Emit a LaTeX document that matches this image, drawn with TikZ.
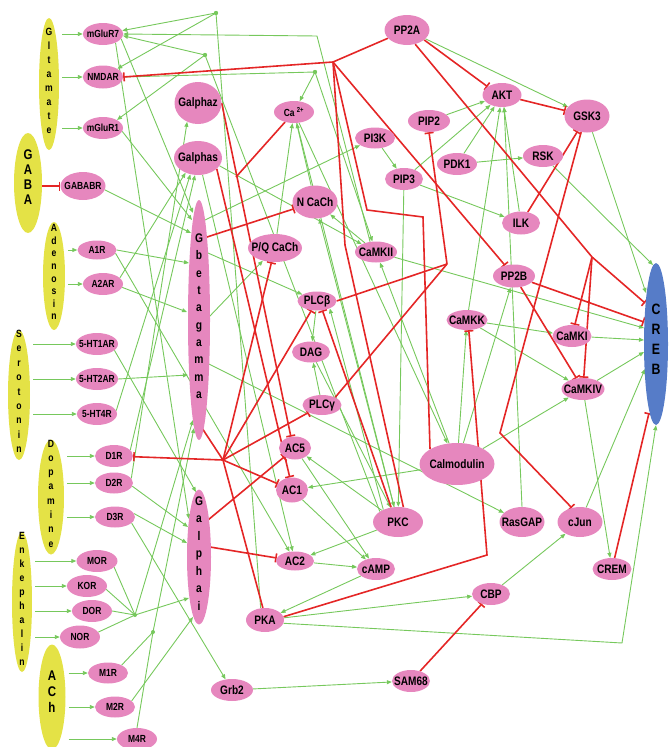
\documentclass[tikz,border=0pt]{standalone}
\usepackage{fontspec}
\newfontfamily\lf[FakeStretch=0.82]{Liberation Sans}
\usetikzlibrary{shapes.geometric,arrows.meta}
\definecolor{pinkc}{RGB}{230,135,190}
\definecolor{yelc}{RGB}{228,226,70}
\definecolor{bluec}{RGB}{86,124,200}
\definecolor{greenc}{RGB}{118,200,92}
\definecolor{redc}{RGB}{228,38,38}
\pgfdeclarelayer{bg}
\pgfsetlayers{bg,main}
\newcommand\zc[1]{\makebox[0pt]{#1}}
\newcommand\vt[1]{\makebox[0pt]{\smash{\begin{tabular}[c]{@{}c@{}}#1\end{tabular}}}}
\begin{document}
\begin{tikzpicture}[x=1pt,y=-1pt,
  pn/.style 2 args={ellipse, fill=pinkc, draw=none, inner sep=0pt, minimum width=#1, minimum height=#2, font=\lf\bfseries\fontsize{10.3}{12}\selectfont},
  mn/.style 2 args={pn={#1}{#2}, font=\lf\bfseries\fontsize{12.3}{14}\selectfont},
  yn/.style 2 args={ellipse, fill=yelc, draw=none, inner sep=0pt, minimum width=#1, minimum height=#2},
  vf/.style 2 args={font=\lf\bfseries\fontsize{#1}{#2}\selectfont},
  ga/.style={draw=greenc, line width=0.9pt, -{Triangle[length=5pt,width=4pt]}},
  gl/.style={draw=greenc, line width=0.9pt},
  ri/.style={draw=redc, line width=1.6pt, -{Bar[width=9pt]}},
  rl/.style={draw=redc, line width=1.6pt}]
\useasboundingbox (0,0) rectangle (670,747);

% neurotransmitters
\node[yn={20pt}{132pt}, vf={10.5}{14}] (glu) at (49,84) {\vt{G\\l\\t\\a\\m\\a\\t\\e}};
\node[yn={28pt}{100pt}, vf={14}{15}] (gaba) at (28,183) {\vt{G\\A\\B\\A}};
\node[yn={22pt}{108pt}, vf={10.5}{12.6}] (aden) at (54,276) {\vt{A\\d\\e\\n\\o\\s\\i\\n}};
\node[yn={22pt}{130pt}, vf={10.5}{14.4}] (sero) at (19,395) {\vt{S\\e\\r\\o\\t\\o\\n\\i\\n}};
\node[yn={26pt}{115pt}, vf={10.5}{14.3}] (dopa) at (51,497) {\vt{D\\o\\p\\a\\m\\i\\n\\e}};
\node[yn={20pt}{140pt}, vf={10.5}{14}] (enk) at (22,602) {\vt{E\\n\\k\\e\\p\\h\\a\\l\\i\\n}};
\node[yn={27pt}{105pt}, vf={14}{16}] (ach) at (52,697) {\vt{A\\C\\h}};

% receptors
\node[pn={40pt}{22pt}] (mglur7) at (103,34) {\zc{mGluR7}};
\node[pn={40pt}{23pt}] (nmdar) at (103,77) {\zc{NMDAR}};
\node[pn={40pt}{22pt}] (mglur1) at (103,128) {\zc{mGluR1}};
\node[pn={45pt}{28pt}] (gababr) at (83,186) {\zc{GABABR}};
\node[pn={39pt}{19pt}] (a1r) at (97,250) {\zc{A1R}};
\node[pn={40pt}{22pt}] (a2ar) at (103,284) {\zc{A2AR}};
\node[pn={42pt}{22pt}] (ht1ar) at (97,344) {\zc{5-HT1AR}};
\node[pn={42pt}{22pt}] (ht2ar) at (97,379) {\zc{5-HT2AR}};
\node[pn={40pt}{22pt}] (ht4r) at (97,414) {\zc{5-HT4R}};
\node[pn={38pt}{22pt}] (d1r) at (114,456) {\zc{D1R}};
\node[pn={38pt}{21pt}] (d2r) at (114,483) {\zc{D2R}};
\node[pn={40pt}{21pt}] (d3r) at (115,517) {\zc{D3R}};
\node[pn={41pt}{22pt}] (mor) at (97,561) {\zc{MOR}};
\node[pn={40pt}{22pt}] (kor) at (87,586) {\zc{KOR}};
\node[pn={40pt}{22pt}] (dor) at (92,611) {\zc{DOR}};
\node[pn={40pt}{23pt}] (nor) at (80,637) {\zc{NOR}};
\node[pn={40pt}{21pt}] (m1r) at (108,673) {\zc{M1R}};
\node[pn={40pt}{21pt}] (m2r) at (115,707) {\zc{M2R}};
\node[pn={40pt}{22pt}] (m4r) at (137,739) {\zc{M4R}};

% G proteins
\node[mn={47pt}{42pt}] (galphaz) at (198,103) {\zc{Galphaz}};
\node[mn={48pt}{34pt}] (galphas) at (198,158) {\zc{Galphas}};
\node[pn={22pt}{240pt}, vf={12.5}{17.3}] (gbg) at (199,320) {\vt{G\\b\\e\\t\\a\\g\\a\\m\\m\\a}};
\node[pn={24pt}{135pt}, vf={12.5}{17.5}] (galphai) at (199,557) {\vt{G\\a\\l\\p\\h\\a\\i}};

% effectors
\node[pn={40pt}{22pt}] (ca) at (294,112) {\zc{Ca \textsuperscript{2+}}};
\node[mn={45pt}{30pt}] (pp2a) at (407,30) {\zc{PP2A}};
\node[mn={40pt}{21pt}] (pi3k) at (375,138) {\zc{PI3K}};
\node[mn={42pt}{22pt}] (pip2) at (429,121) {\zc{PIP2}};
\node[mn={38pt}{22pt}] (pip3) at (404,179) {\zc{PIP3}};
\node[mn={45pt}{33pt}] (nca) at (315,202) {\zc{N CaCh}};
\node[mn={54pt}{28pt}] (pq) at (275,248) {\zc{P/Q CaCh}};
\node[mn={42pt}{21pt}] (camkii) at (376,252) {\zc{CaMKII}};
\node[mn={39pt}{24pt}] (akt) at (502,95) {\zc{AKT}};
\node[mn={45pt}{33pt}] (gsk3) at (587,116) {\zc{GSK3}};
\node[mn={40pt}{22pt}] (pdk1) at (457,164) {\zc{PDK1}};
\node[mn={40pt}{22pt}] (rsk) at (543,156) {\zc{RSK}};
\node[mn={38pt}{23pt}] (ilk) at (521,223) {\zc{ILK}};
\node[mn={42pt}{23pt}] (pp2b) at (514,276) {\zc{PP2B}};
\node[mn={41pt}{20pt}] (camkk) at (467,320) {\zc{CaMKK}};
\node[mn={39pt}{22pt}] (camki) at (572,336) {\zc{CaMKI}};
\node[mn={43pt}{22pt}] (camkiv) at (583,389) {\zc{CaMKIV}};
\node[ellipse, fill=bluec, inner sep=0pt, minimum width=24pt, minimum height=162pt, vf={15}{20}] (creb) at (656,344) {\vt{C\\R\\E\\B}};
\node[mn={75pt}{42pt}] (calm) at (457,464) {\zc{Calmodulin}};
\node[mn={39pt}{19pt}] (plcb) at (317,301) {\zc{PLCβ}};
\node[mn={38pt}{21pt}] (dag) at (311,352) {\zc{DAG}};
\node[mn={39pt}{20pt}] (plcg) at (322,405) {\zc{PLCγ}};
\node[mn={32pt}{23pt}] (ac5) at (295,448) {\zc{AC5}};
\node[mn={32pt}{25pt}] (ac1) at (292,490) {\zc{AC1}};
\node[mn={50pt}{30pt}] (pkc) at (398,522) {\zc{PKC}};
\node[mn={38pt}{19pt}] (ac2) at (295,561) {\zc{AC2}};
\node[mn={38pt}{22pt}] (camp) at (376,569) {\zc{cAMP}};
\node[mn={38pt}{24pt}] (pka) at (265,620) {\zc{PKA}};
\node[mn={42pt}{22pt}] (grb2) at (232,690) {\zc{Grb2}};
\node[mn={38pt}{22pt}] (sam68) at (411,681) {\zc{SAM68}};
\node[mn={45pt}{30pt}] (rasgap) at (522,522) {\zc{RasGAP}};
\node[mn={45pt}{30pt}] (cjun) at (580,522) {\zc{cJun}};
\node[mn={38pt}{22pt}] (cbp) at (491,594) {\zc{CBP}};
\node[mn={39pt}{22pt}] (crem) at (612,569) {\zc{CREM}};

% junctions and corners
\coordinate (N1) at (315,72);
\coordinate (D1) at (216,13);
\coordinate (D2) at (205,55);
\coordinate (C1) at (317,36);
\coordinate (J1) at (333,62);
\coordinate (J2) at (592,257);
\coordinate (J3) at (223,460);
\coordinate (J4) at (447,264);
\coordinate (J5) at (135,615);
\coordinate (J6) at (153,632);
\coordinate (K1) at (367,210);
\coordinate (K2) at (423,217);
\coordinate (K4) at (500,433);
\coordinate (K5) at (487,555);
\coordinate (K6) at (622,643);
\coordinate (K7) at (345,245);
\coordinate (K8) at (236,177);

\begin{pgfonlayer}{bg}
% transmitter -> receptor
\foreach \r in {mglur7,nmdar,mglur1} \draw[ga,shorten <=3pt] (glu.east |- \r) -- (\r);
\draw[ri] (gaba.east |- gababr) -- (gababr);
\foreach \r in {a1r,a2ar} \draw[ga,shorten <=3pt] (aden.east |- \r) -- (\r);
\foreach \r in {ht1ar,ht2ar,ht4r} \draw[ga,shorten <=3pt] (sero.east |- \r) -- (\r);
\foreach \r in {d1r,d2r,d3r} \draw[ga,shorten <=3pt] (dopa.east |- \r) -- (\r);
\foreach \r in {mor,kor,dor,nor} \draw[ga,shorten <=3pt] (enk.east |- \r) -- (\r);
\foreach \r in {m1r,m2r,m4r} \draw[ga,shorten <=3pt] (ach.east |- \r) -- (\r);

% receptor -> G protein
\draw[ga] (mglur7.-15) -- ([shift={(-6,-107)}]gbg.center);
\draw[ga] (mglur7.-35) -- ([shift={(-10,-38)}]galphai.center);
\draw[ga] (mglur1.-10) -- ([shift={(-7,-100)}]gbg.center);
\draw[ga] (gababr.-10) -- ([shift={(-8,-87)}]gbg.center);
\draw[ga] (a1r.east) -- ([shift={(-10,-57)}]gbg.center);
\draw[ga] (a2ar.-10) -- ([shift={(-12,-8)}]gbg.center);
\draw[ga] (ht2ar.east) -- ([shift={(-11,55)}]gbg.center);
\draw[ga] (ht1ar.-20) -- ([shift={(-3,-65)}]galphai.center);
\draw[ga] (ht4r.10) -- (galphas.-115);
\draw[ga] (d1r.20) -- (galphas.-100);
\draw[ga] (a2ar.20) -- (galphas.-130);
\draw[ga] (d2r.15) -- (galphaz.-120);
\draw[ga] (d2r.-10) -- ([shift={(-11,-30)}]galphai.center);
\draw[ga] (d3r.10) -- ([shift={(-12,-14)}]galphai.center);
\draw[ga] (d3r.-20) -- (grb2);
\draw[gl] (mor.-20) -- (J5);
\draw[gl] (kor.-10) -- (J5);
\draw[gl] (dor.east) -- (J5);
\draw[gl] (nor.15) -- (J5);
\draw[ga] (J5) -- ([shift={(-10,41)}]galphai.center);
\draw[ga] (J5) -- ([shift={(-6,100)}]gbg.center);
\draw[gl] (m1r.30) -- (J6);
\draw[gl] (m4r.90) -- (J6);
\draw[ga] (J6) -- ([shift={(-5,108)}]gbg.center);
\draw[ga] (m2r.20) -- ([shift={(-6,60)}]galphai.center);
\fill[greenc] (J5) circle (2pt) (J6) circle (2pt);

% top green loops
\draw[gl] (nmdar.east) -- (N1);
\draw[ga] (N1) -- (ca);
\draw[ga] (N1) -- (camkii);
\draw[gl] (pka.110) -- (D1);
\draw[ga] (D1) -- (mglur7.10);
\draw[ga] (D1) -- (nmdar.30);
\draw[gl] (pkc.150) -- (D2);
\draw[ga] (D2) -- (mglur7.-5);
\draw[ga] (D2) -- (mglur1.30);
\draw[ga] (camkii.120) -- (C1) -- (mglur7.east);
\fill[greenc] (N1) circle (2.2pt) (D1) circle (2.2pt) (D2) circle (2.2pt);

% G protein -> effectors (green)
\draw[ga] ([shift={(9,-67)}]gbg.center) -- (plcb);
\draw[ga] ([shift={(6,-100)}]gbg.center) -- (pi3k);
\draw[ga] ([shift={(10,-3)}]gbg.center) -- (pq);
\draw[ga] ([shift={(10,44)}]gbg.center) -- (rasgap);
\draw[ga] (galphas.-20) -- (camkii);
\draw[ga] (galphas.-75) -- (ac2);
\draw[ga] (a1r.-10) -- (ac2);

% second messengers
\draw[ga] (nca) -- (ca);
\draw[ga] (pq) -- (ca);
\draw[ga] (ca) -- (calm);
\draw[ga] (ca) -- (pkc);
\draw[ga] (pkc) -- (nca);
\draw[ga] (camkii) -- (nca);
\draw[ga] (pi3k) -- (pip3);
\draw[ga] (pip3) -- (akt);
\draw[ga] (pdk1) -- (akt);
\draw[ga] (pip2) -- (akt);
\draw[ga] (pdk1) -- (rsk);
\draw[ga] (pip3) -- (ilk);
\draw[ga] (ilk) -- (akt);
\draw[ga] (camkk) -- (akt);
\draw[ga] (rasgap.north) -- (akt.-80);
\draw[ga] (pip3) -- (pkc);
\draw[ga] (pp2a) -- (gsk3);
\draw[ga] (rsk) -- ([shift={(-3,-79)}]creb.center);
\draw[ga] (gsk3) -- ([shift={(-10,-51)}]creb.center);
\draw[ga] (camkii) -- ([shift={(-12,-16)}]creb.center);
\draw[ga] (camki) -- ([shift={(-12,-4)}]creb.center);
\draw[ga] (camkiv) -- ([shift={(-12,8)}]creb.center);
\draw[ga] (cjun) -- ([shift={(-11,25)}]creb.center);
\draw[ga] (pka.-10) -- (K6) -- (creb.south);
\draw[ga] (pka) -- (cbp);
\draw[ga] (cbp) -- (cjun);
\draw[ga] (grb2) -- (sam68);
\draw[ga] (camkk) -- (camki);
\draw[ga] (camkk) -- (camkiv);
\draw[ga] (camkiv) -- (crem);
\draw[ga] (calm) -- (camkk);
\draw[ga] (calm) -- (pp2b);
\draw[ga] (calm) -- (camkiv);
\draw[ga] (calm) -- (camkii);
\draw[ga] (calm) -- (ac1);
\draw[ga] (plcb) -- (dag);
\draw[ga] (plcg) -- (dag);
\draw[ga] (dag) -- (pkc);
\draw[ga] (pkc.140) -- (plcb.-30);
\draw[ga] (pkc) -- (ac2);
\draw[ga] (pkc) -- (ac5);
\draw[ga] (ac2) -- (camp);
\draw[ga] (ac1) -- (camp);
\draw[ga] (ac5) -- (camp);
\draw[ga] (camp) -- (pka);

% red inhibitions
\draw[rl] (pp2a) -- (J1);
\draw[ri] (J1) -- (nmdar.east);
\draw[ri] (pp2a.-30) -- (akt.150);
\draw[rl] (pp2a.-60) -- (J2);
\draw[ri] (J2) -- (camki);
\draw[ri] (J2) -- (camkiv);
\draw[ri] (J2) -- ([shift={(-11,-41)}]creb.center);
\draw[ri] (J1) -- (pp2b);
\draw[rl] (J1) -- (K1) -- (K2) -- ([shift={(-27,-15)}]calm.center);
\draw[rl] (J1) -- (K7) -- (pkc.70);
\draw[ri] (pkc.115) -- (plcb.-60);
\draw[rl] (plcb.east) -- (J4);
\draw[rl] (plcg.30) -- (J4);
\draw[ri] (J4) -- (pip2.south);
\draw[ri] (akt) -- (gsk3);
\draw[ri] (ilk) -- (gsk3);
\draw[ri] (gsk3.-110) -- (K4) -- (cjun.120);
\draw[ri] (pp2b) -- (camkiv);
\draw[ri] (pp2b) -- ([shift={(-12,-22)}]creb.center);
\draw[ri] (pka.10) -- (K5) -- (camkk.-80);
\draw[ri] (sam68) -- (cbp);
\draw[ri] (crem) -- ([shift={(-7,69)}]creb.center);
\draw[rl] (ca) -- (K8);
\draw[ri] (galphaz.east) -- (ac5.110);
\draw[ri] (galphas.-30) -- (ac1.100);
\draw[ri] ([shift={(8,-83)}]gbg.center) -- (nca);
\draw[rl] ([shift={(3,108)}]gbg.center) -- (J3);
\draw[ri] (J3) -- (pq);
\draw[ri] (J3) -- (plcb);
\draw[ri] (J3) -- (plcg);
\draw[ri] (J3) -- (d1r);
\draw[ri] (J3) -- (ac1);
\draw[rl] (J3) -- (pka.100);
\draw[ri] ([shift={(9,-37)}]galphai.center) -- (ac5);
\draw[ri] ([shift={(11,-10)}]galphai.center) -- (ac2);
\end{pgfonlayer}
\end{tikzpicture}
\end{document}
